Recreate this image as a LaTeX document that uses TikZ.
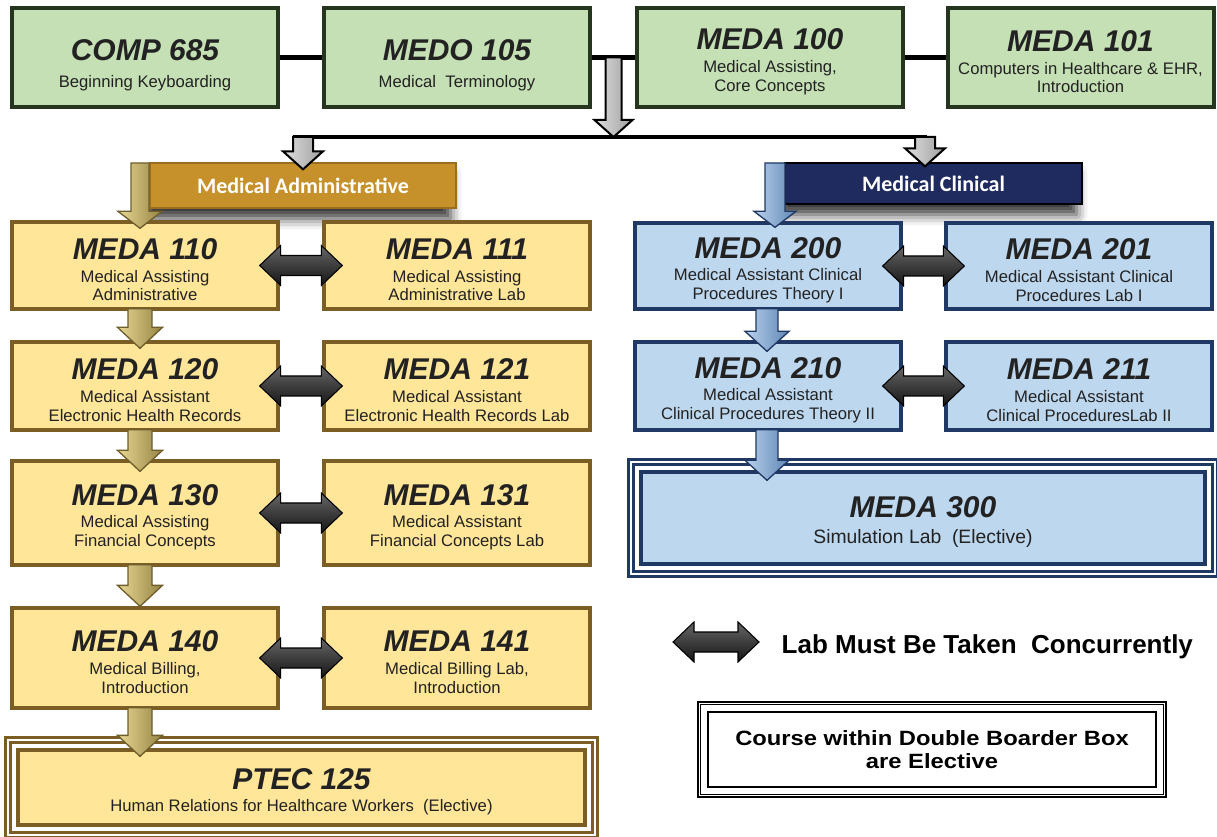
\documentclass[tikz,border=0pt]{standalone}
\usepackage{fontspec}
\setmainfont{Liberation Sans}
\newfontfamily\bannerfont{Carlito}
\usetikzlibrary{calc, shadows.blur}

\definecolor{greenfill}{HTML}{C5E0B4}
\definecolor{greenline}{HTML}{26361E}
\definecolor{goldfill}{HTML}{FFE699}
\definecolor{goldline}{HTML}{7C5E24}
\definecolor{bluefill}{HTML}{BDD7EE}
\definecolor{blueline}{HTML}{1F3864}
\definecolor{admfill}{HTML}{C6912A}
\definecolor{admline}{HTML}{9A6E1C}
\definecolor{clinfill}{HTML}{1F2A5E}
\definecolor{goldarrL}{HTML}{E8D894}
\definecolor{goldarrR}{HTML}{968343}
\definecolor{goldarrE}{HTML}{6E5E2A}
\definecolor{bluearrL}{HTML}{BAD2EC}
\definecolor{bluearrR}{HTML}{5F86B6}
\definecolor{txt}{HTML}{222222}

\def\px{0.75pt}
\newcommand\crs[2][22pt]{\rule{0pt}{#1}{\fontsize{22.5}{24}\selectfont\bfseries\itshape #2}}
% block arrow pointing down: style, start, tip, shaft half, head half, head length
\newcommand\blkdown[6]{%
  \path[#1] let \p1=#2, \p2=#3 in
    (\x1-#4*\px,\y1) -- (\x1-#4*\px,\y2+#6*\px) -- (\x1-#5*\px,\y2+#6*\px)
    -- (\x1,\y2) -- (\x1+#5*\px,\y2+#6*\px) -- (\x1+#4*\px,\y2+#6*\px)
    -- (\x1+#4*\px,\y1) -- cycle;}
% block arrow with two heads: style, left tip, right tip, shaft half, head half, head length
\newcommand\blkboth[6]{%
  \path[#1] let \p1=#2, \p2=#3 in
    (\x1,\y1) -- (\x1+#6*\px,\y1+#5*\px) -- (\x1+#6*\px,\y1+#4*\px)
    -- (\x2-#6*\px,\y1+#4*\px) -- (\x2-#6*\px,\y1+#5*\px) -- (\x2,\y1)
    -- (\x2-#6*\px,\y1-#5*\px) -- (\x2-#6*\px,\y1-#4*\px)
    -- (\x1+#6*\px,\y1-#4*\px) -- (\x1+#6*\px,\y1-#5*\px) -- cycle;}

\tikzset{
  course/.style={rectangle, line width=2.5pt, minimum width=199.5pt, minimum height=65.25pt,
    align=center, text=txt, inner sep=2pt, font=\fontsize{12.5}{14}\selectfont},
  corebox/.style={course, draw=greenline, fill=greenfill, line width=3pt, minimum height=74.25pt},
  admbox/.style={course, draw=goldline, fill=goldfill},
  clinbox/.style={course, draw=blueline, fill=bluefill},
  banner/.style={rectangle, line width=1pt, text=white,
    font=\bannerfont\bfseries\fontsize{16.5}{18}\selectfont,
    blur shadow={shadow xshift=-4pt, shadow yshift=-8pt, shadow blur radius=8pt, shadow opacity=80}},
  bar/.style={line width=3.75pt, black},
  bus/.style={line width=3pt, black},
  grayarr/.style={left color=gray!25, right color=gray!75, draw=black, line width=1.5pt},
  goldarr/.style={left color=goldarrL, right color=goldarrR, draw=goldarrE, line width=1pt},
  bluearr/.style={left color=bluearrL, right color=bluearrR, draw=blueline, line width=1pt},
  darkarr/.style={top color=black!60, bottom color=black!92, draw=black, line width=0.8pt},
  elective/.style={line width=2.25pt, double=white, double distance=1.5pt}
}

\begin{document}
\begin{tikzpicture}[x=0.75pt, y=-0.75pt]
  %tikz  course map, medical assisting
  \useasboundingbox (0,0) rectangle (1217,837);

  % core courses
  \node[corebox] (comp) at (145,57.5) {\crs[27pt]{COMP 685}\\[6pt]Beginning Keyboarding};
  \node[corebox] (medo) at (457,57.5) {\crs[27pt]{MEDO 105}\\[6pt]Medical\ \ Terminology};
  \node[corebox] (m100) at (770,57.5) {\crs{MEDA 100}\\[3pt]Medical Assisting,\\Core Concepts};
  \node[corebox] (m101) at (1080.5,57.5) {\crs{MEDA 101}\\[3pt]Computers in Healthcare \& EHR,\\Introduction};

  \draw[bar] (comp) -- (medo);
  \draw[bar] (medo) -- (m100);
  \draw[bar] (m100) -- (m101);

  \coordinate (split) at ($(medo.east)!0.5!(m100.west)$);
  \coordinate (busL) at (303,137);
  \coordinate (busR) at (925,137);
  \draw[bus] ($(busL)+(-10,0)$) -- ($(busR)+(2,0)$);
  \blkdown{grayarr}{(split)}{(split |- busL)}{8}{19}{17}

  % tracks
  \node[banner, fill=admfill, draw=admline, minimum width=229.5pt, minimum height=33.75pt] (adm) at (303,185.5) {Medical Administrative};
  \node[banner, fill=clinfill, draw=black, minimum width=222.75pt, minimum height=30.75pt] (clin) at (933.5,183.5) {Medical Clinical};

  \blkdown{grayarr}{(busL)}{($(busL |- adm.north)+(0,7)$)}{10}{20}{18}
  \blkdown{grayarr}{(busR)}{($(busR |- clin.north)+(0,4)$)}{10}{20}{18}

  % administrative
  \node[admbox] (m110) at (145,265.5) {\crs{MEDA 110}\\[3pt]Medical Assisting\\Administrative};
  \node[admbox] (m111) at (457,265.5) {\crs{MEDA 111}\\[3pt]Medical Assisting\\Administrative Lab};
  \node[admbox, minimum height=66pt] (m120) at (145,386) {\crs{MEDA 120}\\[3pt]Medical Assistant\\Electronic Health Records};
  \node[admbox, minimum height=66pt] (m121) at (457,386) {\crs{MEDA 121}\\[3pt]Medical Assistant\\Electronic Health Records Lab};
  \node[admbox, minimum height=78pt] (m130) at (145,513) {\crs{MEDA 130}\\[3pt]Medical Assisting\\Financial Concepts};
  \node[admbox, minimum height=78pt] (m131) at (457,513) {\crs{MEDA 131}\\[3pt]Medical Assistant\\Financial Concepts Lab};
  \node[admbox, minimum height=75pt] (m140) at (145,658) {\crs{MEDA 140}\\[3pt]Medical Billing,\\Introduction};
  \node[admbox, minimum height=75pt] (m141) at (457,658) {\crs{MEDA 141}\\[3pt]Medical Billing Lab,\\Introduction};
  \node[admbox, minimum width=425.25pt, minimum height=56.25pt] (ptec) at (301.5,787.5) {\crs{PTEC 125}\\[3pt]Human Relations for Healthcare Workers\ \ (Elective)};
  \draw[elective, draw=goldline] ($(ptec.north west)+(-8,-8)$) rectangle ($(ptec.south east)+(8,8)$);

  \coordinate (admdrop) at (140,163);
  \blkdown{goldarr}{(admdrop)}{($(admdrop |- m110.north)+(0,8)$)}{9}{22}{17}
  \blkdown{goldarr}{($(m110.south)+(-5,-2)$)}{($(m120.north)+(-5,8)$)}{12}{22.5}{21}
  \blkdown{goldarr}{($(m120.south)+(-5,-2)$)}{($(m130.north)+(-5,12)$)}{12}{22.5}{21}
  \blkdown{goldarr}{($(m130.south)+(-5,-2)$)}{($(m140.north)+(-5,0)$)}{12}{22.5}{21}
  \blkdown{goldarr}{($(m140.south)+(-5,-2)$)}{($(ptec.north)+(0,8)$)}{12}{22.5}{21}

  \blkboth{darkarr}{($(m110.east)+(-20,0)$)}{($(m111.west)+(20,0)$)}{10}{20}{21}
  \blkboth{darkarr}{($(m120.east)+(-20,0)$)}{($(m121.west)+(20,0)$)}{10}{20}{21}
  \blkboth{darkarr}{($(m130.east)+(-20,0)$)}{($(m131.west)+(20,0)$)}{10}{20}{21}
  \blkboth{darkarr}{($(m140.east)+(-20,0)$)}{($(m141.west)+(20,0)$)}{10}{20}{21}

  % clinical
  \node[clinbox, minimum height=64.5pt] (m200) at (768,266) {\crs{MEDA 200}\\[3pt]Medical Assistant Clinical\\Procedures Theory I};
  \node[clinbox, minimum height=64.5pt] (m201) at (1079,266) {\crs{MEDA 201}\\[3pt]Medical Assistant Clinical\\Procedures Lab I};
  \node[clinbox, minimum height=66pt] (m210) at (768,386) {\crs{MEDA 210}\\[3pt]Medical Assistant\\Clinical Procedures Theory II};
  \node[clinbox, minimum height=66pt] (m211) at (1079,386) {\crs{MEDA 211}\\[3pt]Medical Assistant\\Clinical ProceduresLab II};
  \node[clinbox, minimum width=423pt, minimum height=69pt, font=\fontsize{14.5}{16}\selectfont] (m300) at (923,518) {\crs{MEDA 300}\\[3pt]Simulation Lab\ \ (Elective)};
  \draw[elective, draw=blueline] ($(m300.north west)+(-8,-8)$) rectangle ($(m300.south east)+(8,8)$);

  \coordinate (clindrop) at (775,163);
  \blkdown{bluearr}{(clindrop)}{($(clindrop |- m200.north)+(0,6)$)}{10}{21}{16}
  \blkdown{bluearr}{($(m200.south)+(-1,-2)$)}{($(m210.north)+(0,11)$)}{11}{22}{20}
  \blkdown{bluearr}{($(m210.south)+(-1,-2)$)}{($(m300.north)+(0,10)$)}{11}{22}{20}

  \blkboth{darkarr}{($(m200.east)+(-20,0)$)}{($(m201.west)+(20,0)$)}{10}{20}{21}
  \blkboth{darkarr}{($(m210.east)+(-20,0)$)}{($(m211.west)+(20,0)$)}{10}{20}{21}

  % legend
  \coordinate (lgL) at (673,642);
  \coordinate (lgR) at (759,642);
  \blkboth{darkarr}{(lgL)}{(lgR)}{10}{20}{21}
  \node[anchor=base west, text=black, font=\fontsize{19.5}{21}\selectfont\bfseries] (concur) at (777,653) {Lab Must Be Taken\ \ Concurrently};

  \node[draw=black, line width=1.1pt, minimum width=336pt, minimum height=56.25pt, align=center,
    font=\fontsize{15.5}{17}\selectfont\bfseries] (elect) at (932,749.5)
    {\scalebox{1.15}[1]{Course within Double Boarder Box}\\\scalebox{1.15}[1]{are Elective}};
  \draw[black, line width=1.1pt, double=white, double distance=1.1pt] ($(elect.north west)+(-8,-8)$) rectangle ($(elect.south east)+(8,8)$);
\end{tikzpicture}
\end{document}
